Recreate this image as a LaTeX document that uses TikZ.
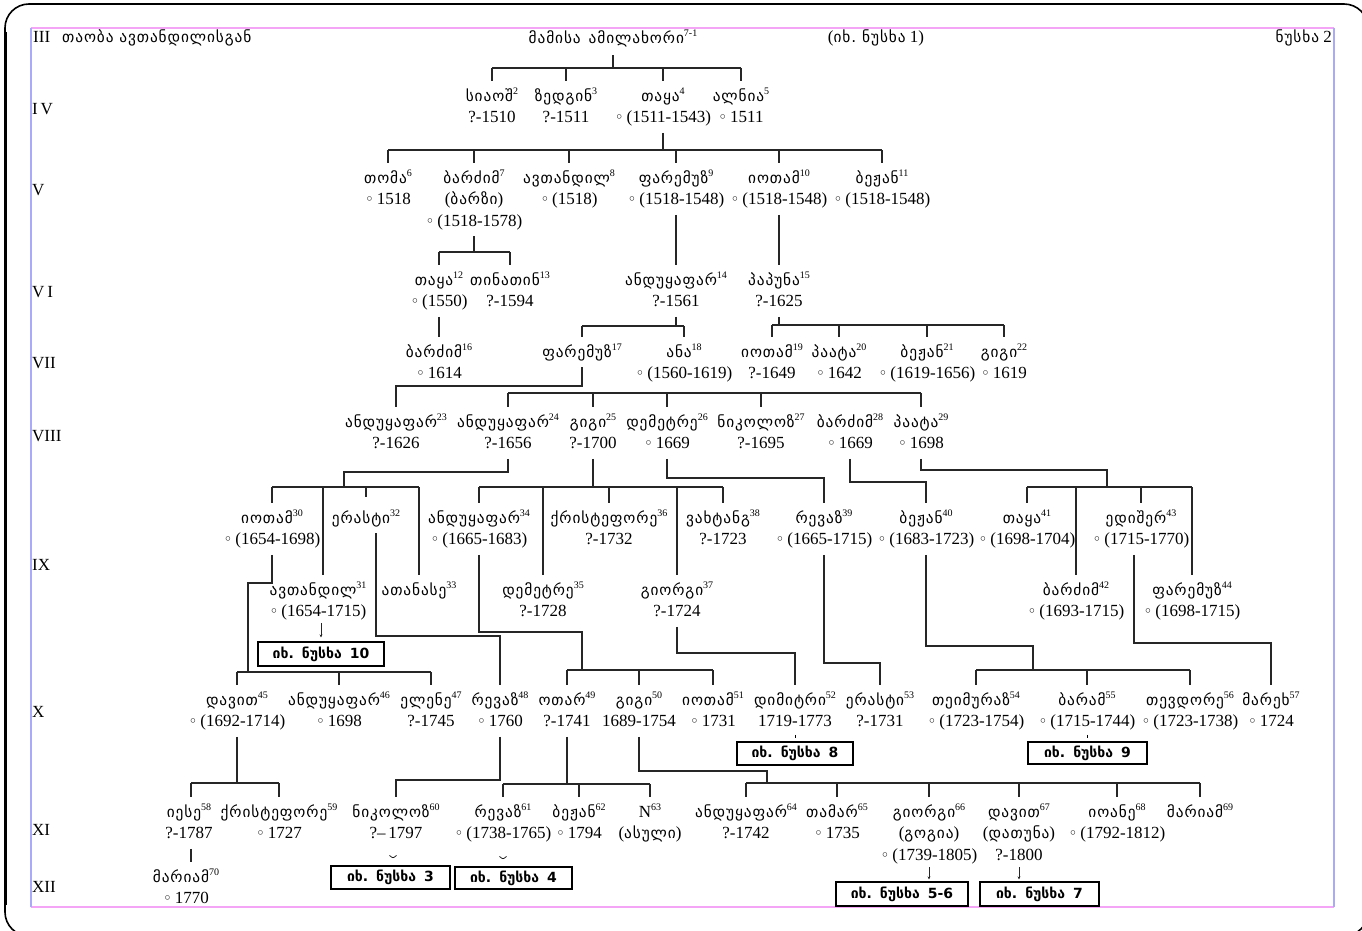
\documentclass[tikz,border=0pt]{standalone}
\usepackage{fontspec}
\setmainfont{Liberation Serif}
\newfontfamily\geo[LetterSpace=6,Scale=0.9]{DejaVu Sans}
\newfontfamily\djs{DejaVu Sans}
\usetikzlibrary{arrows.meta}
\definecolor{pinkline}{RGB}{245,165,245}
\definecolor{blueline}{RGB}{170,170,250}
\newcommand\supn[1]{\raisebox{6.5pt}{\fontsize{10}{10}\selectfont\rmfamily #1}}
\newcommand\nm[2]{{\geo #1}\supn{#2}}
\newcommand\oo{{\djs\fontsize{15}{15}\selectfont ◦}\,}
\newcommand\sst{\rule[-6pt]{0pt}{21pt}}
\newcommand\Lone[1]{\sst#1}
\newcommand\Ltwo[2]{\sst#1\\\sst#2}
\newcommand\Lthree[3]{\sst#1\\\sst#2\\\sst#3}
\tikzset{
  person/.style={anchor=north, yshift=15pt, inner sep=0pt, align=center, font=\fontsize{17}{21.5}\selectfont},
  lbl/.style={anchor=base west, inner sep=0pt, font=\fontsize{17}{21.5}\selectfont},
  conn/.style={line width=1.2pt, black!85},
  refbox/.style={draw, line width=1.2pt, inner sep=0pt, font=\djs\bfseries\fontsize{14}{16}\selectfont},
  tiparrow/.style={line width=0.7pt, black!85, -{Stealth[length=3pt,width=3pt]}},
}
\newcommand\tk[2]{\draw[conn] (#1 |- 0,#2) -- ([yshift=5pt]#1.north);}
\newcommand\hb[3]{\draw[conn] (#1 |- 0,#3) -- (#2 |- 0,#3);}
\newcommand\stem[2]{\draw[conn] ([yshift=-4pt]#1.south) -- (#1 |- 0,#2);}
\begin{document}
\begin{tikzpicture}[x=1pt,y=-1pt]
\useasboundingbox (0,0) rectangle (1362,931);
\fill[white] (0,0) rectangle (1362,931);
% frames
\draw[line width=1.6pt, rounded corners=24pt] (5,4) rectangle (1368,936);
\draw[line width=3pt] (5.5,32) -- (5.5,905);
\draw[pinkline, line width=1.3pt] (31,28) -- (1334,28) (31,907) -- (1334,907);
\draw[blueline, line width=1.3pt] (31,28) -- (31,907) (1334,28) -- (1334,907);
% generation labels
\node[lbl] (g3) at (33,43) {III\hspace{12pt}{\geo თაობა ავთანდილისგან}};
\node[lbl] (g4) at (32,115) {I\,V};
\node[lbl] (g5) at (32,195) {V};
\node[lbl] (g6) at (32,297) {V\,I};
\node[lbl] (g7) at (32,368) {VII};
\node[lbl] (g8) at (32,441) {VIII};
\node[lbl] (g9) at (32,570) {IX};
\node[lbl] (g10) at (32,717) {X};
\node[lbl] (g11) at (32,835) {XI};
\node[lbl] (g12) at (32,892) {XII};
\node[lbl, anchor=base] (see1) at (876,43) {({\geo იხ.\hspace{6pt}ნუსხა} 1)};
\node[lbl, anchor=base east] (list2) at (1332,43) {{\geo ნუსხა} 2};
% persons
\node[person] (root) at (613,43) {\Lone{{\geo მამისა\hspace{8pt}ამილახორი}\supn{7-1}}};
% IV
\node[person] (p2) at (492,101) {\Ltwo{\nm{სიაოშ}{2}}{?-1510}};
\node[person] (p3) at (566,101) {\Ltwo{\nm{ზედგინ}{3}}{?-1511}};
\node[person] (p4) at (663,101) {\Ltwo{\nm{თაყა}{4}}{\oo(1511-1543)}};
\node[person] (p5) at (741,101) {\Ltwo{\nm{ალნია}{5}}{\oo1511}};
% V
\node[person] (p6) at (388,183) {\Ltwo{\nm{თომა}{6}}{\oo1518}};
\node[person] (p7) at (474,183) {\Lthree{\nm{ბარძიმ}{7}}{({\geo ბარზი})}{\oo(1518-1578)}};
\node[person] (p8) at (569,183) {\Ltwo{\nm{ავთანდილ}{8}}{\oo(1518)}};
\node[person] (p9) at (676,183) {\Ltwo{\nm{ფარემუზ}{9}}{\oo(1518-1548)}};
\node[person] (p10) at (779,183) {\Ltwo{\nm{იოთამ}{10}}{\oo(1518-1548)}};
\node[person] (p11) at (882,183) {\Ltwo{\nm{ბეჟან}{11}}{\oo(1518-1548)}};
% VI
\node[person] (p12) at (439,285) {\Ltwo{\nm{თაყა}{12}}{\oo(1550)}};
\node[person] (p13) at (510,285) {\Ltwo{\nm{თინათინ}{13}}{?-1594}};
\node[person] (p14) at (676,285) {\Ltwo{\nm{ანდუყაფარ}{14}}{?-1561}};
\node[person] (p15) at (779,285) {\Ltwo{\nm{პაპუნა}{15}}{?-1625}};
% VII
\node[person] (p16) at (439,357) {\Ltwo{\nm{ბარძიმ}{16}}{\oo1614}};
\node[person] (p17) at (582,357) {\Lone{\nm{ფარემუზ}{17}}};
\node[person] (p18) at (684,357) {\Ltwo{\nm{ანა}{18}}{\oo(1560-1619)}};
\node[person] (p19) at (772,357) {\Ltwo{\nm{იოთამ}{19}}{?-1649}};
\node[person] (p20) at (839,357) {\Ltwo{\nm{პაატა}{20}}{\oo1642}};
\node[person] (p21) at (927,357) {\Ltwo{\nm{ბეჟან}{21}}{\oo(1619-1656)}};
\node[person] (p22) at (1004,357) {\Ltwo{\nm{გიგი}{22}}{\oo1619}};
% VIII
\node[person] (p23) at (396,427) {\Ltwo{\nm{ანდუყაფარ}{23}}{?-1626}};
\node[person] (p24) at (508,427) {\Ltwo{\nm{ანდუყაფარ}{24}}{?-1656}};
\node[person] (p25) at (593,427) {\Ltwo{\nm{გიგი}{25}}{?-1700}};
\node[person] (p26) at (667,427) {\Ltwo{\nm{დემეტრე}{26}}{\oo1669}};
\node[person] (p27) at (761,427) {\Ltwo{\nm{ნიკოლოზ}{27}}{?-1695}};
\node[person] (p28) at (850,427) {\Ltwo{\nm{ბარძიმ}{28}}{\oo1669}};
\node[person] (p29) at (921,427) {\Ltwo{\nm{პაატა}{29}}{\oo1698}};
% IX
\node[person] (p30) at (272,523) {\Ltwo{\nm{იოთამ}{30}}{\oo(1654-1698)}};
\node[person] (p32) at (366,523) {\Lone{\nm{ერასტი}{32}}};
\node[person] (p34) at (479,523) {\Ltwo{\nm{ანდუყაფარ}{34}}{\oo(1665-1683)}};
\node[person] (p36) at (609,523) {\Ltwo{\nm{ქრისტეფორე}{36}}{?-1732}};
\node[person] (p38) at (723,523) {\Ltwo{\nm{ვახტანგ}{38}}{?-1723}};
\node[person] (p39) at (824,523) {\Ltwo{\nm{რევაზ}{39}}{\oo(1665-1715)}};
\node[person] (p40) at (926,523) {\Ltwo{\nm{ბეჟან}{40}}{\oo(1683-1723)}};
\node[person] (p41) at (1027,523) {\Ltwo{\nm{თაყა}{41}}{\oo(1698-1704)}};
\node[person] (p43) at (1141,523) {\Ltwo{\nm{ედიშერ}{43}}{\oo(1715-1770)}};
\node[person] (p31) at (318,595) {\Ltwo{\nm{ავთანდილ}{31}}{\oo(1654-1715)}};
\node[person] (p33) at (419,595) {\Lone{\nm{ათანასე}{33}}};
\node[person] (p35) at (543,595) {\Ltwo{\nm{დემეტრე}{35}}{?-1728}};
\node[person] (p37) at (677,595) {\Ltwo{\nm{გიორგი}{37}}{?-1724}};
\node[person] (p42) at (1076,595) {\Ltwo{\nm{ბარძიმ}{42}}{\oo(1693-1715)}};
\node[person] (p44) at (1192,595) {\Ltwo{\nm{ფარემუზ}{44}}{\oo(1698-1715)}};
% X
\node[person] (p45) at (237,705) {\Ltwo{\nm{დავით}{45}}{\oo(1692-1714)}};
\node[person] (p46) at (339,705) {\Ltwo{\nm{ანდუყაფარ}{46}}{\oo1698}};
\node[person] (p47) at (431,705) {\Ltwo{\nm{ელენე}{47}}{?-1745}};
\node[person] (p48) at (500,705) {\Ltwo{\nm{რევაზ}{48}}{\oo1760}};
\node[person] (p49) at (567,705) {\Ltwo{\nm{ოთარ}{49}}{?-1741}};
\node[person] (p50) at (639,705) {\Ltwo{\nm{გიგი}{50}}{1689-1754}};
\node[person] (p51) at (713,705) {\Ltwo{\nm{იოთამ}{51}}{\oo1731}};
\node[person] (p52) at (795,705) {\Ltwo{\nm{დიმიტრი}{52}}{1719-1773}};
\node[person] (p53) at (880,705) {\Ltwo{\nm{ერასტი}{53}}{?-1731}};
\node[person] (p54) at (976,705) {\Ltwo{\nm{თეიმურაზ}{54}}{\oo(1723-1754)}};
\node[person] (p55) at (1087,705) {\Ltwo{\nm{ბარამ}{55}}{\oo(1715-1744)}};
\node[person] (p56) at (1190,705) {\Ltwo{\nm{თევდორე}{56}}{\oo(1723-1738)}};
\node[person] (p57) at (1271,705) {\Ltwo{\nm{მარეხ}{57}}{\oo1724}};
% XI
\node[person] (p58) at (189,817) {\Ltwo{\nm{იესე}{58}}{?-1787}};
\node[person] (p59) at (279,817) {\Ltwo{\nm{ქრისტეფორე}{59}}{\oo1727}};
\node[person] (p60) at (396,817) {\Ltwo{\nm{ნიკოლოზ}{60}}{?--\,1797}};
\node[person] (p61) at (503,817) {\Ltwo{\nm{რევაზ}{61}}{\oo(1738-1765)}};
\node[person] (p62) at (579,817) {\Ltwo{\nm{ბეჟან}{62}}{\oo1794}};
\node[person] (p63) at (650,817) {\Ltwo{N\supn{63}}{({\geo ასული})}};
\node[person] (p64) at (746,817) {\Ltwo{\nm{ანდუყაფარ}{64}}{?-1742}};
\node[person] (p65) at (837,817) {\Ltwo{\nm{თამარ}{65}}{\oo1735}};
\node[person] (p66) at (929,817) {\Lthree{\nm{გიორგი}{66}}{({\geo გოგია})}{\oo(1739-1805)}};
\node[person] (p67) at (1019,817) {\Lthree{\nm{დავით}{67}}{({\geo დათუნა})}{?-1800}};
\node[person] (p68) at (1117,817) {\Ltwo{\nm{იოანე}{68}}{\oo(1792-1812)}};
\node[person] (p69) at (1200,817) {\Lone{\nm{მარიამ}{69}}};
% XII
\node[person] (p70) at (186,882) {\Ltwo{\nm{მარიამ}{70}}{\oo1770}};
% reference boxes
\node[refbox, minimum width=126pt, minimum height=24pt] (b10) at (321,654) {იხ.\hspace{8pt}ნუსხა\hspace{8pt}10};
\node[refbox, minimum width=116pt, minimum height=23pt] (b8) at (795,753.5) {იხ.\hspace{8pt}ნუსხა\hspace{8pt}8};
\node[refbox, minimum width=119pt, minimum height=22pt] (b9) at (1087.5,753) {იხ.\hspace{8pt}ნუსხა\hspace{8pt}9};
\node[refbox, minimum width=119pt, minimum height=23pt] (b3) at (390.5,877.5) {იხ.\hspace{8pt}ნუსხა\hspace{8pt}3};
\node[refbox, minimum width=117pt, minimum height=22pt] (b4) at (513.5,878) {იხ.\hspace{8pt}ნუსხა\hspace{8pt}4};
\node[refbox, minimum width=132pt, minimum height=24pt] (b56) at (902,894) {იხ.\hspace{8pt}ნუსხა\hspace{8pt}5-6};
\node[refbox, minimum width=119pt, minimum height=24pt] (b7) at (1039.5,894) {იხ.\hspace{8pt}ნუსხა\hspace{8pt}7};
% ---------- connectors ----------
\draw[conn] ([yshift=-6pt]root.south) -- (root |- 0,68);
\hb{p2}{p5}{68} \tk{p2}{68} \tk{p3}{68} \tk{p4}{68} \tk{p5}{68}
\stem{p4}{150}
\hb{p6}{p11}{150} \tk{p6}{150} \tk{p7}{150} \tk{p8}{150} \tk{p9}{150} \tk{p10}{150} \tk{p11}{150}
\stem{p7}{252}
\hb{p12}{p13}{252} \tk{p12}{252} \tk{p13}{252}
\draw[conn] ([yshift=-4pt]p9.south) -- ([yshift=5pt]p14.north);
\draw[conn] ([yshift=-4pt]p10.south) -- ([yshift=5pt]p15.north);
\draw[conn] ([yshift=-4pt]p12.south) -- ([yshift=5pt]p16.north);
\stem{p14}{326}
\hb{p17}{p18}{326} \tk{p17}{326} \tk{p18}{326}
\stem{p15}{325}
\hb{p19}{p22}{325} \tk{p19}{325} \tk{p20}{325} \tk{p21}{325} \tk{p22}{325}
\draw[conn] ([yshift=-4pt]p17.south) |- (p23 |- 0,386) -- ([yshift=5pt]p23.north);
\hb{p24}{p29}{393} \tk{p24}{393} \tk{p25}{393} \tk{p26}{393} \tk{p27}{393} \tk{p29}{393}
% IX
\draw[conn] ([yshift=-4pt]p24.south) |- (344,472) -- (344,487);
\hb{p30}{p33}{487} \tk{p30}{487} \draw[conn] (323,487) -- (323,575); \draw[conn] (p32 |- 0,487) -- (p32 |- 0,497); \tk{p33}{487}
\stem{p25}{487}
\hb{p34}{p38}{487} \tk{p34}{487} \tk{p35}{487} \tk{p36}{487} \tk{p37}{487} \tk{p38}{487}
\draw[conn] ([yshift=-4pt]p26.south) |- (p39 |- 0,478) -- ([yshift=5pt]p39.north);
\draw[conn] ([yshift=-4pt]p28.south) |- (p40 |- 0,482) -- ([yshift=5pt]p40.north);
\draw[conn] ([yshift=-4pt]p29.south) |- (1107,470) -- (1107,487);
\hb{p41}{p44}{487} \tk{p41}{487} \tk{p42}{487} \tk{p43}{487} \tk{p44}{487}
% X
\draw[conn] ([yshift=-4pt]p30.south) |- (248,583) -- (248,672);
\hb{p45}{p47}{672} \tk{p45}{672} \tk{p46}{672} \tk{p47}{672}
\draw[conn] ([xshift=10pt,yshift=-4pt]p32.south) |- (p48 |- 0,636) -- ([yshift=5pt]p48.north);
\draw[tiparrow] (b10.north |- 0,623) -- ([yshift=4pt]b10.north);
\draw[conn] ([yshift=-4pt]p34.south) |- (582,632) -- (582,670);
\hb{p49}{p51}{670} \tk{p49}{670} \tk{p50}{670} \tk{p51}{670}
\draw[conn] ([yshift=-4pt]p37.south) |- (p52 |- 0,653) -- ([yshift=5pt]p52.north);
\draw[conn] ([yshift=-4pt]p39.south) |- (p53 |- 0,663) -- ([yshift=5pt]p53.north);
\draw[conn] ([yshift=-4pt]p40.south) |- (1033,646) -- (1033,670);
\hb{p54}{p56}{670} \tk{p54}{670} \tk{p55}{670} \tk{p56}{670}
\draw[conn] ([xshift=-7pt,yshift=-4pt]p43.south) |- (p57 |- 0,643) -- ([yshift=5pt]p57.north);
\draw[line width=0.7pt] ([yshift=-2pt]p52.south) -- ++(0,3);
\draw[line width=0.7pt] ([yshift=-2pt]p55.south) -- ++(0,3);
% XI
\stem{p45}{783}
\draw[conn] (191,783) -- (p59 |- 0,783); \draw[conn] (191,783) -- (191,797); \tk{p59}{783}
\draw[conn] ([yshift=-4pt]p48.south) |- (p60 |- 0,780) -- ([yshift=5pt]p60.north);
\stem{p49}{784}
\hb{p61}{p63}{784} \tk{p61}{784} \tk{p62}{784} \tk{p63}{784}
\draw[conn] ([yshift=-4pt]p50.south) |- (767,771) -- (767,783);
\hb{p64}{p69}{783} \tk{p64}{783} \tk{p65}{783} \tk{p66}{783} \tk{p67}{783} \tk{p68}{783} \tk{p69}{783}
\draw[conn] ([xshift=2pt,yshift=-4pt]p58.south) -- ([xshift=2pt]p58.south |- 0,862);
\draw[line width=0.7pt] ([xshift=-1pt,yshift=10pt]b3.north) .. controls ([xshift=2.5pt,yshift=7pt]b3.north) .. ([xshift=6pt,yshift=10pt]b3.north);
\draw[line width=0.7pt] ([xshift=-14pt,yshift=10pt]b4.north) .. controls ([xshift=-10.5pt,yshift=7pt]b4.north) .. ([xshift=-7pt,yshift=10pt]b4.north);
\draw[tiparrow] ([yshift=-1pt]p66.south) -- ++(0,12);
\draw[tiparrow] ([yshift=-1pt]p67.south) -- ++(0,12);
\end{tikzpicture}
\end{document}
